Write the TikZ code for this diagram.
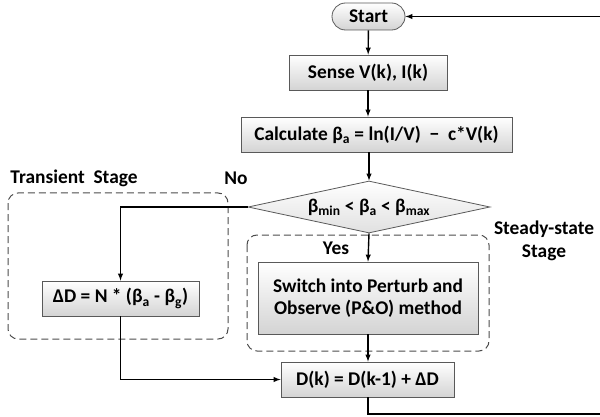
\documentclass[tikz,border=0pt]{standalone}
\usepackage{fontspec}
\setmainfont{Carlito}
\usepackage{tikz}
\usetikzlibrary{arrows,positioning,shapes,calc}

\begin{document}
\begin{tikzpicture}[x=1pt,y=-1pt,>=latex,line width=1.4pt,
  every node/.style={font=\fontsize{19.4}{22.5}\selectfont\bfseries},
  stepbox/.style={rectangle,draw=black!65,line width=0.8pt,top color=white,bottom color=black!17,inner sep=0pt,align=center},
  choice/.style={diamond,draw=black!65,line width=0.8pt,top color=white,bottom color=black!12,inner sep=0pt,shape aspect=4.65,minimum width=242pt,minimum height=52pt},
  stage/.style={draw=black!70,line width=1pt,dashed,dash pattern=on 7pt off 4pt,rounded corners=10pt}]
\clip (0,0) rectangle (600,417);
% stages
\draw[stage] (8,193) rectangle (228,339);
\draw[stage] (247,235) rectangle (489,351);
\node (lTrans) at (74,178) {Transient\ \ Stage};
\node[align=center] (lSteady) at (544,241) {Steady-state\\Stage};
\node (lNo) at (236,178) {No};
\node (lYes) at (336,248) {Yes};
% steps
\begin{scope}
\node[stepbox,rounded corners=13.5pt,minimum width=73pt,minimum height=27pt] (start) at (368.5,16.5) {Start};
\node[stepbox,minimum width=158pt,minimum height=35pt] (sense) at (368,72.5) {Sense V(k), I(k)};
\node[stepbox,minimum width=271pt,minimum height=35pt] (calc) at (376.5,134.5) {Calculate β\textsubscript{a} = ln(I/V)\ \ −\ \ c*V(k)};
\node[choice] (test) at (369,207) {β\textsubscript{min} < β\textsubscript{a} < β\textsubscript{max}};
\node[stepbox,minimum width=157pt,minimum height=35pt] (delta) at (120.5,298.5) {ΔD = N * (β\textsubscript{a} - β\textsubscript{g})};
\node[stepbox,minimum width=220pt,minimum height=72pt] (po) at (368,298) {Switch into Perturb and\\Observe (P\&O) method};
\node[stepbox,minimum width=173pt,minimum height=35pt] (duty) at (367.5,379.5) {D(k) = D(k-1) + ΔD};
\coordinate (back) at (604,414);
\end{scope}
% connectors
\begin{scope}
\draw[->] (start) -- (sense);
\draw[->] (sense) -- (sense.south |- calc.north);
\draw[->] (test.north |- calc.south) -- (test.north);
\draw[->] (test.west) -| (delta.north);
\draw[->] (test.south) -- (po.north);
\draw[->] (po.south) -- (po.south |- duty.north);
\draw[->] (delta.south) |- (duty.west);
\draw[->] (duty.south -| po.south) |- (back) |- (start.east);
\end{scope}
\end{tikzpicture}
\end{document}
